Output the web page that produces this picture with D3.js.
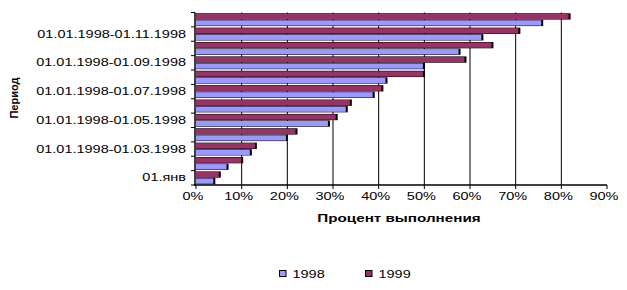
<!DOCTYPE html>
<html>
<head>
<meta charset="utf-8">
<script src="https://cdn.jsdelivr.net/npm/d3@7"></script>
<style>
  body { margin: 0; background: #fff; }
  text { font-family: "Liberation Sans", Arial, sans-serif; fill: #000; }
</style>
</head>
<body>
<div id="wrapper"></div>
<script>
// periods, bottom to top
const periods = [
  "01.янв",
  "01.01.1998-01.02.1998",
  "01.01.1998-01.03.1998",
  "01.01.1998-01.04.1998",
  "01.01.1998-01.05.1998",
  "01.01.1998-01.06.1998",
  "01.01.1998-01.07.1998",
  "01.01.1998-01.08.1998",
  "01.01.1998-01.09.1998",
  "01.01.1998-01.10.1998",
  "01.01.1998-01.11.1998",
  "01.01.1998-01.12.1998"
];
const values1998 = [0.039, 0.068, 0.119, 0.198, 0.290, 0.329, 0.388, 0.416, 0.498, 0.576, 0.626, 0.757];
const values1999 = [0.051, 0.100, 0.130, 0.219, 0.307, 0.338, 0.407, 0.498, 0.589, 0.648, 0.707, 0.817];
const seriesNames = ["1998", "1999"];
const seriesColors = ["#9999FF", "#993366"];
const xTicks = [0, 0.1, 0.2, 0.3, 0.4, 0.5, 0.6, 0.7, 0.8, 0.9];

const width = 627, height = 290;
const stretch = 1.45; // excel text looks wide

const svg = d3.select('#wrapper').append('svg')
  .attr('width', width)
  .attr('height', height);

const xScale = d3.scaleLinear()
  .domain([0, 0.9])
  .range([196, 607]);

const yScale = d3.scaleBand()
  .domain(periods.slice().reverse())
  .range([12.5, 185])
  .padding(0);

const inner = d3.scaleBand()
  .domain(["1999", "1998"])
  .range([0, yScale.bandwidth()])
  .paddingInner(0.04)
  .paddingOuter(0.12);

const data = periods.map((p, i) => ({ p, v1998: values1998[i], v1999: values1999[i] }));

// gridlines
svg.append('g')
  .selectAll('line')
  .data(xTicks.filter(t => t > 0 && t < 0.9))
  .join('line')
  .attr('x1', d => xScale(d)).attr('x2', d => xScale(d))
  .attr('y1', 12.5).attr('y2', 185)
  .attr('stroke', '#000')
  .attr('stroke-width', 1);

// bars
const groups = svg.append('g')
  .selectAll('g')
  .data(data)
  .join('g')
  .attr('transform', d => `translate(0,${yScale(d.p)})`);

seriesNames.forEach((s, si) => {
  // dark depth edge
  groups.append('rect')
    .attr('x', xScale(0))
    .attr('y', inner(s))
    .attr('width', d => xScale(d['v' + s]) - xScale(0) + 1.5)
    .attr('height', inner.bandwidth())
    .attr('fill', '#000');
  groups.append('rect')
    .attr('x', xScale(0))
    .attr('y', d => inner(s) + 0.5)
    .attr('width', d => xScale(d['v' + s]) - xScale(0) - 0.5)
    .attr('height', inner.bandwidth() - 1)
    .attr('fill', seriesColors[si]);
});

// y axis
svg.append('line')
  .attr('x1', 195).attr('x2', 195)
  .attr('y1', 12.5).attr('y2', 186)
  .attr('stroke', '#000').attr('stroke-width', 1.5);

svg.append('g')
  .selectAll('line')
  .data(d3.range(periods.length + 1))
  .join('line')
  .attr('x1', 191).attr('x2', 195)
  .attr('y1', i => 12.5 + i * yScale.step())
  .attr('y2', i => 12.5 + i * yScale.step())
  .attr('stroke', '#000');

svg.append('g')
  .selectAll('text')
  .data(periods.filter((p, i) => i % 2 === 0))
  .join('text')
  .attr('transform', d => `translate(186,${yScale(d) + yScale.bandwidth() / 2 + 3.5}) scale(${stretch},1)`)
  .attr('text-anchor', 'end')
  .style('font-size', '10px')
  .text(d => d);

// x axis
svg.append('line')
  .attr('x1', 194).attr('x2', 607)
  .attr('y1', 185).attr('y2', 185)
  .attr('stroke', '#000').attr('stroke-width', 1.5);

svg.append('g')
  .selectAll('line')
  .data(xTicks)
  .join('line')
  .attr('x1', d => xScale(d)).attr('x2', d => xScale(d))
  .attr('y1', 185).attr('y2', 189)
  .attr('stroke', '#000');

svg.append('g')
  .selectAll('text')
  .data(xTicks)
  .join('text')
  .attr('transform', d => `translate(${xScale(d) - 3},${200}) scale(${stretch},1)`)
  .attr('text-anchor', 'middle')
  .style('font-size', '10px')
  .text(d => d3.format('.0%')(d));

// axis titles
svg.append('text')
  .attr('transform', `translate(399,222) scale(${stretch},1)`)
  .attr('text-anchor', 'middle')
  .style('font-size', '10.5px')
  .style('font-weight', 'bold')
  .text('Процент выполнения');

svg.append('text')
  .attr('transform', 'translate(18,98) rotate(-90)')
  .attr('text-anchor', 'middle')
  .style('font-size', '11px')
  .style('font-weight', 'bold')
  .text('Период');

// legend
const legend = svg.append('g')
  .selectAll('g')
  .data(seriesNames)
  .join('g')
  .attr('transform', (d, i) => `translate(${279.5 + i * 86},270.5)`);

legend.append('rect')
  .attr('width', 6.5).attr('height', 6)
  .attr('fill', (d, i) => seriesColors[i])
  .attr('stroke', '#000');

legend.append('text')
  .attr('transform', `translate(13,7.5) scale(${stretch},1)`)
  .style('font-size', '10px')
  .text(d => d);
</script>
</body>
</html>
